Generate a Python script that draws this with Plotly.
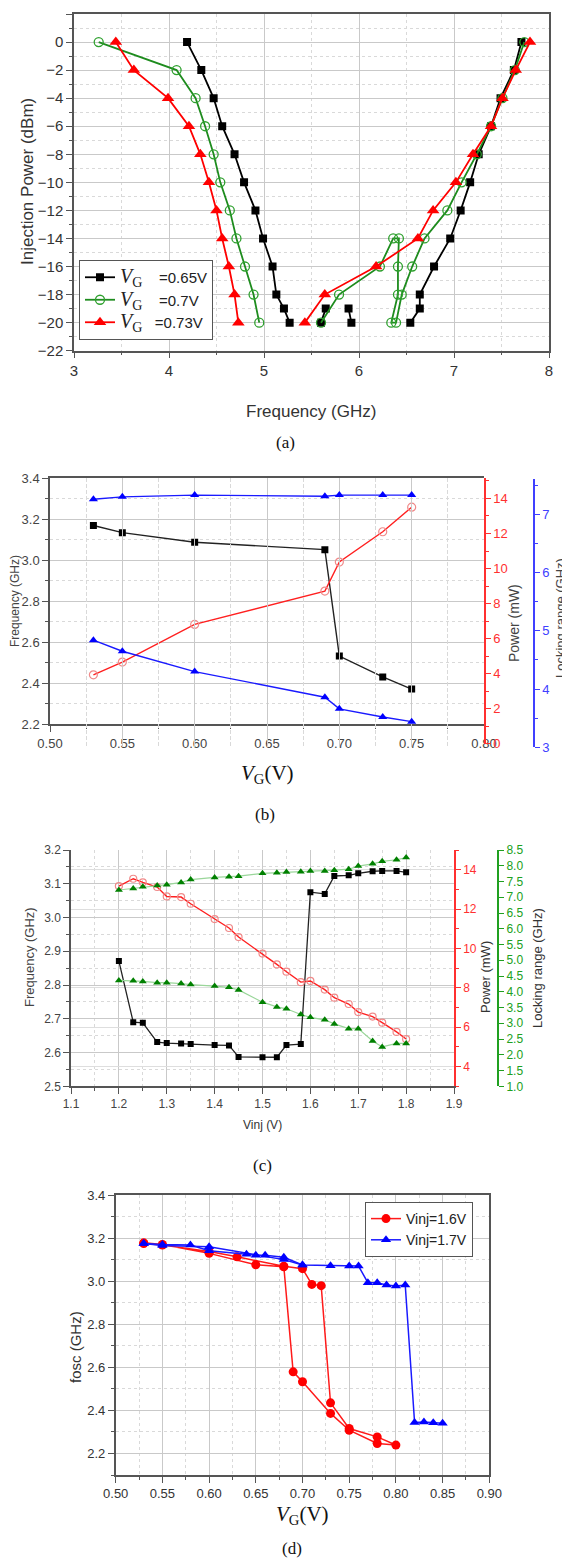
import plotly.graph_objects as go

# Reference canvas is 570 x 1558; the page adds an 8 px body margin,
# so the figure is drawn 8 px smaller and reference pixels are shifted.
W, H = 570, 1558
OFF = 8
FW, FH = W - OFF, H - OFF
def fx(p): return (p - OFF) / FW
def fy(p): return 1 - (p - OFF) / FH

SANS = "Liberation Sans"
SERIF = "Liberation Serif"

# ---------------- Panel (a) data ----------------
a_f_065 = [4.19, 4.34, 4.47, 4.56, 4.69, 4.79, 4.91, 4.99, 5.09, 5.13, 5.21, 5.27, None,
           5.60, 5.65, None, 5.89, 5.92, None,
           6.54, 6.64, 6.64, 6.79, 6.96, 7.07, 7.17, 7.26, 7.39, 7.49, 7.63, 7.71]
a_p_065 = [0, -2, -4, -6, -8, -10, -12, -14, -16, -18, -19, -20, None,
           -20, -19, None, -19, -20, None,
           -20, -19, -18, -16, -14, -12, -10, -8, -6, -4, -2, 0]
a_f_070 = [3.26, 4.08, 4.28, 4.38, 4.47, 4.54, 4.64, 4.71, 4.80, 4.89, 4.95, None,
           5.60, 5.79, 6.22, 6.36, 6.42, 6.41, 6.41, 6.34, 6.39, 6.45, 6.56, 6.69,
           6.93, 7.08, 7.24, 7.39, 7.51, 7.64, 7.74]
a_p_070 = [0, -2, -4, -6, -8, -10, -12, -14, -16, -18, -20, None,
           -20, -18, -16, -14, -14, -16, -18, -20, -20, -18, -16, -14,
           -12, -10, -8, -6, -4, -2, 0]
a_f_073 = [3.44, 3.63, 3.99, 4.21, 4.33, 4.42, 4.50, 4.56, 4.63, 4.69, 4.73, None,
           5.43, 5.64, 6.18, 6.62, 6.78, 7.02, 7.20, 7.39, 7.51, 7.65, 7.80]
a_p_073 = [0, -2, -4, -6, -8, -10, -12, -14, -16, -18, -20, None,
           -20, -18, -16, -14, -12, -10, -8, -6, -4, -2, 0]
a_labels = ["=0.65V", "=0.7V", "=0.73V"]

# ---------------- Panel (b) data ----------------
b_vg = [0.53, 0.55, 0.60, 0.69, 0.70, 0.73, 0.75]
b_freq = [3.170, 3.135, 3.088, 3.052, 2.533, 2.431, 2.372]
b_power = [3.93, 4.66, 6.81, 8.71, 10.37, 12.10, 13.50]
b_lock_hi = [7.26, 7.30, 7.33, 7.31, 7.33, 7.33, 7.33]
b_lock_lo = [4.84, 4.65, 4.30, 3.86, 3.66, 3.52, 3.44]

# ---------------- Panel (c) data ----------------
c_vinj = [1.20, 1.23, 1.25, 1.28, 1.30, 1.33, 1.35, 1.40, 1.43, 1.45, 1.50, 1.53,
          1.55, 1.58, 1.60, 1.63, 1.65, 1.68, 1.70, 1.73, 1.75, 1.78, 1.80]
c_freq = [2.871, 2.690, 2.688, 2.631, 2.628, 2.627, 2.625, 2.622, 2.621, 2.587, 2.586, 2.586,
          2.622, 2.625, 3.075, 3.070, 3.123, 3.125, 3.131, 3.137, 3.138, 3.138, 3.134]
c_power = [13.17, 13.54, 13.36, 13.12, 12.64, 12.61, 12.27, 11.49, 11.04, 10.58, 9.74, 9.19,
           8.82, 8.29, 8.35, 7.91, 7.50, 7.18, 6.77, 6.54, 6.23, 5.76, 5.40]
c_lock_hi = [7.23, 7.28, 7.33, 7.37, 7.40, 7.47, 7.56, 7.63, 7.65, 7.67, 7.76, 7.78,
             7.80, 7.81, 7.83, 7.83, 7.86, 7.89, 7.99, 8.06, 8.14, 8.19, 8.26]
c_lock_lo = [4.36, 4.35, 4.33, 4.29, 4.29, 4.26, 4.23, 4.18, 4.14, 4.06, 3.67, 3.52,
             3.46, 3.28, 3.19, 3.11, 2.98, 2.83, 2.83, 2.44, 2.25, 2.36, 2.36]

# ---------------- Panel (d) data ----------------
d_vg_16 = [0.53, 0.55, 0.60, 0.65, 0.68, 0.69, 0.70, 0.73, 0.75, 0.78, 0.80,
           0.78, 0.75, 0.73, 0.72, 0.71, 0.70, 0.68, 0.63, 0.60, 0.55, 0.53]
d_f_16 = [3.178, 3.170, 3.129, 3.076, 3.067, 2.579, 2.533, 2.386, 2.308, 2.246, 2.239,
          2.277, 2.316, 2.435, 2.979, 2.985, 3.058, 3.069, 3.113, 3.138, 3.168, 3.175]
d_vg_17 = [0.53, 0.55, 0.58, 0.60, 0.64, 0.65, 0.66, 0.68, 0.70, 0.73, 0.75, 0.76, 0.77,
           0.78, 0.79, 0.80, 0.81, 0.82, 0.83, 0.84, 0.85, None, 0.70, 0.68, 0.60, 0.55, 0.53]
d_f_17 = [3.175, 3.170, 3.168, 3.141, 3.125, 3.120, 3.120, 3.111, 3.075, 3.072, 3.070, 3.070, 2.993,
          2.993, 2.982, 2.977, 2.982, 2.344, 2.346, 2.343, 2.340, None, 3.075, 3.100, 3.160, 3.165, 3.175]
d_labels = ["Vinj=1.6V", "Vinj=1.7V"]

fig = go.Figure()

VG_HTML = '<span style="font-family:Liberation Serif;font-size:20px"><i>V</i><sub>G</sub></span>'

# Panel (a)
fig.add_trace(go.Scatter(x=a_f_065, y=a_p_065, mode="lines+markers", xaxis="x", yaxis="y",
                         name=VG_HTML + "\u00a0\u00a0\u00a0\u00a0" + a_labels[0],
                         line=dict(color="black", width=1.8),
                         marker=dict(symbol="square", size=8, color="black"), legend="legend"))
fig.add_trace(go.Scatter(x=a_f_070, y=a_p_070, mode="lines+markers", xaxis="x", yaxis="y",
                         name=VG_HTML + "\u00a0\u00a0\u00a0\u00a0" + a_labels[1],
                         line=dict(color="#1e8c1e", width=1.8),
                         marker=dict(symbol="circle-open", size=9, color="#2ea02e", line=dict(width=1.3)),
                         legend="legend"))
fig.add_trace(go.Scatter(x=a_f_073, y=a_p_073, mode="lines+markers", xaxis="x", yaxis="y",
                         name=VG_HTML + "\u00a0\u00a0\u00a0" + a_labels[2],
                         line=dict(color="#ff0000", width=1.8),
                         marker=dict(symbol="triangle-up", size=11, color="#ff0000"), legend="legend"))

# Panel (b)
fig.add_trace(go.Scatter(x=b_vg, y=b_freq, mode="lines+markers", xaxis="x2", yaxis="y2", showlegend=False,
                         line=dict(color="#222", width=1.4), marker=dict(symbol="square", size=7, color="black")))
fig.add_trace(go.Scatter(x=b_vg, y=b_power, mode="lines+markers", xaxis="x2", yaxis="y3", showlegend=False,
                         line=dict(color="#ff2020", width=1.4),
                         marker=dict(symbol="circle-open", size=8, color="#f08a8a", line=dict(width=1.2))))
fig.add_trace(go.Scatter(x=b_vg, y=b_lock_hi, mode="lines+markers", xaxis="x2", yaxis="y4", showlegend=False,
                         line=dict(color="#1a1aff", width=1.4), marker=dict(symbol="triangle-up", size=8, color="#0000ff")))
fig.add_trace(go.Scatter(x=b_vg, y=b_lock_lo, mode="lines+markers", xaxis="x2", yaxis="y4", showlegend=False,
                         line=dict(color="#1a1aff", width=1.4), marker=dict(symbol="triangle-up", size=8, color="#0000ff")))

# Panel (c)
fig.add_trace(go.Scatter(x=c_vinj, y=c_lock_hi, mode="lines+markers", xaxis="x5", yaxis="y7", showlegend=False,
                         line=dict(color="#9ad69a", width=1.2), marker=dict(symbol="triangle-up", size=7, color="#008000")))
fig.add_trace(go.Scatter(x=c_vinj, y=c_lock_lo, mode="lines+markers", xaxis="x5", yaxis="y7", showlegend=False,
                         line=dict(color="#9ad69a", width=1.2), marker=dict(symbol="triangle-up", size=7, color="#008000")))
fig.add_trace(go.Scatter(x=c_vinj, y=c_power, mode="lines+markers", xaxis="x5", yaxis="y6", showlegend=False,
                         line=dict(color="#ff2020", width=1.4),
                         marker=dict(symbol="circle-open", size=7, color="#f08a8a", line=dict(width=1.2))))
fig.add_trace(go.Scatter(x=c_vinj, y=c_freq, mode="lines+markers", xaxis="x5", yaxis="y5", showlegend=False,
                         line=dict(color="#222", width=1.3), marker=dict(symbol="square", size=6, color="black")))

# Panel (d)
fig.add_trace(go.Scatter(x=d_vg_16, y=d_f_16, mode="lines+markers", xaxis="x8", yaxis="y8", name=d_labels[0],
                         line=dict(color="#ff1a1a", width=1.5),
                         marker=dict(symbol="circle", size=9, color="#ff0000"), legend="legend2"))
fig.add_trace(go.Scatter(x=d_vg_17, y=d_f_17, mode="lines+markers", xaxis="x8", yaxis="y8", name=d_labels[1],
                         line=dict(color="#1a1aff", width=1.5),
                         marker=dict(symbol="triangle-up", size=9, color="#0000ff"), legend="legend2"))

GRID = "#c9c9c9"
MINOR = "#d9d9d9"
AXC = "#555555"
TXT = "#333333"

def base_axis(**kw):
    d = dict(showline=True, linecolor=AXC, linewidth=1.5, ticks="outside", ticklen=6, tickwidth=1.2,
             tickcolor=AXC, showgrid=True, gridcolor=GRID, gridwidth=1, zeroline=False, automargin=False,
             tickfont=dict(family=SANS, size=15, color=TXT))
    d.update(kw)
    return d

def side_axis(color, **kw):
    d = dict(showgrid=False, showline=True, linecolor=color, linewidth=1.5, ticks="outside", ticklen=5,
             tickcolor=color, zeroline=False, automargin=False, tickfont=dict(family=SANS, size=13, color=color))
    d.update(kw)
    return d

layout = dict(
    width=FW, height=FH, margin=dict(l=0, r=0, t=0, b=0, pad=0, autoexpand=False),
    paper_bgcolor="white", plot_bgcolor="rgba(0,0,0,0)",
    font=dict(family=SANS, color=TXT),
    # Panel (a)
    xaxis=base_axis(domain=[fx(74), fx(549)], range=[3, 8], dtick=1, anchor="y", mirror=True,
                    minor=dict(dtick=0.5, ticklen=3, tickcolor=AXC, showgrid=True, gridcolor=MINOR, griddash="dot")),
    yaxis=base_axis(domain=[fy(350.7), fy(14)], range=[-22, 2], dtick=2, anchor="x", mirror=True,
                    minor=dict(dtick=1, ticklen=3, tickcolor=AXC, showgrid=True, gridcolor=MINOR, griddash="dot")),
    # Panel (b)
    xaxis2=base_axis(domain=[fx(50), fx(484)], range=[0.5, 0.8], dtick=0.05, tickformat=".2f", anchor="y2",
                     mirror=True, tickfont=dict(family=SANS, size=13, color="#444"),
                     minor=dict(dtick=0.025, ticklen=3, tickcolor=AXC, showgrid=True, gridcolor=MINOR, griddash="dot")),
    yaxis2=base_axis(domain=[fy(724.3), fy(478.3)], range=[2.2, 3.4], dtick=0.2, tickformat=".1f", anchor="x2",
                     tickfont=dict(family=SANS, size=13, color="#444"),
                     minor=dict(dtick=0.1, ticklen=3, tickcolor=AXC, showgrid=True, gridcolor=MINOR, griddash="dot")),
    yaxis3=side_axis("#ff3030", domain=[fy(743.7), fy(478.3)], side="right", anchor="x2", range=[0, 15.15],
                     dtick=2, minor=dict(dtick=1, ticklen=3, tickcolor="#ff3030")),
    yaxis4=side_axis("#4040ff", domain=[fy(747.3), fy(479.4)], side="right", anchor="free", position=fx(534),
                     range=[3, 7.6], dtick=1, minor=dict(dtick=0.5, ticklen=3, tickcolor="#4040ff")),
    # Panel (c)
    xaxis5=base_axis(domain=[fx(71), fx(454)], range=[1.1, 1.9], dtick=0.1, tickformat=".1f", anchor="y5",
                     tickfont=dict(family=SANS, size=12, color="#444"),
                     minor=dict(dtick=0.05, ticklen=3, tickcolor=AXC, showgrid=True, gridcolor=MINOR, griddash="dot")),
    yaxis5=base_axis(domain=[fy(1086.3), fy(850)], range=[2.5, 3.2], dtick=0.1, tickformat=".1f", anchor="x5",
                     tickfont=dict(family=SANS, size=12, color="#444"),
                     minor=dict(dtick=0.05, ticklen=3, tickcolor=AXC, showgrid=True, gridcolor=MINOR, griddash="dot")),
    yaxis6=side_axis("#ff3030", overlaying="y5", side="right", anchor="x5", range=[3, 15], dtick=2,
                     showgrid=True, gridcolor="#dedede", minor=dict(dtick=1, ticklen=3, tickcolor="#ff3030"),
                     tickfont=dict(family=SANS, size=12, color="#ff3030")),
    yaxis7=side_axis("#20a020", overlaying="y5", side="right", anchor="free", position=fx(498.3),
                     range=[1.0, 8.5], dtick=0.5, tickformat=".1f",
                     tickfont=dict(family=SANS, size=12, color="#20a020")),
    # Panel (d)
    xaxis8=base_axis(domain=[fx(115.7), fx(489.3)], range=[0.5, 0.9], dtick=0.05, tickformat=".2f", anchor="y8",
                     mirror=True, tickfont=dict(family=SANS, size=13, color="#333"),
                     minor=dict(dtick=0.025, ticklen=3, tickcolor=AXC, showgrid=True, gridcolor=MINOR, griddash="dot")),
    yaxis8=base_axis(domain=[fy(1475), fy(1195)], range=[2.1, 3.4], dtick=0.2, tickformat=".1f", anchor="x8",
                     mirror=True, tickfont=dict(family=SANS, size=13, color="#333"),
                     minor=dict(dtick=0.1, ticklen=3, tickcolor=AXC, showgrid=True, gridcolor=MINOR, griddash="dot")),
    legend=dict(x=fx(79), y=fy(260), xanchor="left", yanchor="top", bgcolor="white",
                bordercolor="#555", borderwidth=1, font=dict(family=SANS, size=15, color="#222"),
                tracegroupgap=0, itemwidth=30),
    legend2=dict(x=fx(365), y=fy(1202), xanchor="left", yanchor="top", bgcolor="white",
                 bordercolor="#555", borderwidth=1, font=dict(family=SANS, size=14, color="#222"),
                 tracegroupgap=0, itemwidth=30),
)
fig.update_layout(**layout)

def ann(text, x, y, size, angle=0, family=SANS, color=TXT):
    fig.add_annotation(text=text, x=fx(x), y=fy(y), xref="paper", yref="paper", showarrow=False,
                       xanchor="center", yanchor="middle", textangle=angle,
                       font=dict(family=family, size=size, color=color))

# Panel (a) titles
ann("Injection Power (dBm)", 27, 182, 17, -90)
ann("Frequency (GHz)", 311, 412, 17)
ann("(a)", 285, 442, 17, family=SERIF, color="#111")
# Panel (b)
ann("Frequency (GHz)", 15, 601, 12, -90, color="#444")
ann("Power (mW)", 514, 623, 14, -90, color="#444")
ann("Locking range (GHz)", 560, 618, 13, -90, color="#444")
ann("<i>V</i><sub>G</sub>(V)", 267, 774, 21, family=SERIF, color="#111")
ann("(b)", 265, 814, 17, family=SERIF, color="#111")
# Panel (c)
ann("Frequency (GHz)", 29, 957, 13, -90, color="#444")
ann("Power (mW)", 485, 977, 13, -90, color="#333")
ann("Locking range (GHz)", 537, 968, 13, -90, color="#333")
ann("Vinj (V)", 262, 1125, 12, color="#333")
ann("(c)", 262, 1165, 17, family=SERIF, color="#111")
# Panel (d)
ann("fosc (GHz)", 75, 1347, 15, -90, color="#333")
ann("<i>V</i><sub>G</sub>(V)", 302, 1515, 21, family=SERIF, color="#111")
ann("(d)", 292, 1548, 17, family=SERIF, color="#111")

fig.write_html("out.html")
